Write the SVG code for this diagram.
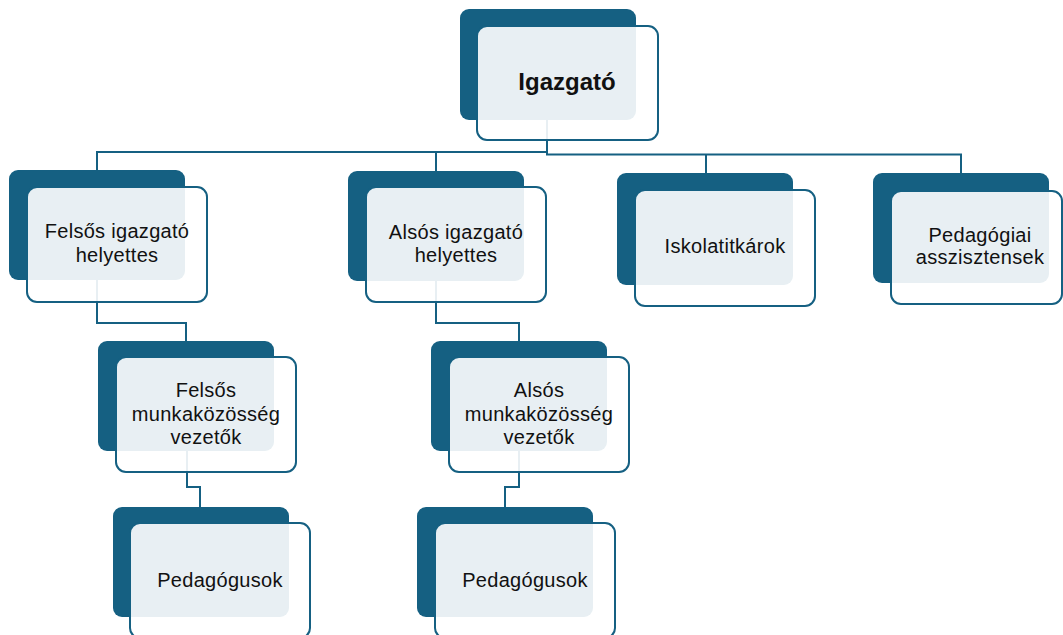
<svg xmlns="http://www.w3.org/2000/svg" width="1063" height="635" viewBox="0 0 1063 635">
<style>
.bg{fill:#ffffff}
.dark{fill:#156082}
.box{fill:#ffffff;fill-opacity:0.9;stroke:#156082;stroke-width:2}
.conn{fill:none;stroke:#156082;stroke-width:2}
.t{font-family:"Liberation Sans",Arial,sans-serif;font-size:20px;fill:#111111;text-anchor:middle;letter-spacing:0.3px}
.tb{font-family:"Liberation Sans",Arial,sans-serif;font-size:24px;font-weight:bold;fill:#111111;text-anchor:middle}
</style>
<rect class="bg" x="0" y="0" width="1063" height="635"/>
<g id="connectors">
<path class="conn" d="M547 120 V154.5 H961 V173"/>
<path class="conn" d="M547 152 H97 V170"/>
<path class="conn" d="M436 152 V171"/>
<path class="conn" d="M706 154.5 V173"/>
<path class="conn" d="M97 280 V323 H186 V341"/>
<path class="conn" d="M187 451 V487 H200 V507"/>
<path class="conn" d="M436 281 V323 H519 V341"/>
<path class="conn" d="M519 451 V487 H505 V507"/>
</g>
<g id="node-igazgato">
<rect class="dark" x="460" y="9" width="176" height="111" rx="9"/>
<rect class="box" x="477" y="26" width="181" height="114" rx="10"/>
<text class="tb" x="567" y="90">Igazgató</text>
</g>
<g id="node-felsos-ig">
<rect class="dark" x="9" y="170" width="176" height="110" rx="9"/>
<rect class="box" x="27" y="187" width="180" height="115" rx="10"/>
<text class="t" x="117" y="238">Felsős igazgató</text>
<text class="t" x="117" y="262">helyettes</text>
</g>
<g id="node-alsos-ig">
<rect class="dark" x="348" y="171" width="176" height="110" rx="9"/>
<rect class="box" x="366" y="187" width="180" height="115" rx="10"/>
<text class="t" x="456" y="239">Alsós igazgató</text>
<text class="t" x="456" y="262">helyettes</text>
</g>
<g id="node-iskolatitkarok">
<rect class="dark" x="617" y="173" width="176" height="112" rx="9"/>
<rect class="box" x="635" y="190" width="180" height="116" rx="10"/>
<text class="t" x="725" y="253">Iskolatitkárok</text>
</g>
<g id="node-pedagogiai-asszisztensek">
<rect class="dark" x="873" y="173" width="176" height="110" rx="9"/>
<rect class="box" x="891" y="191" width="171" height="113" rx="10"/>
<text class="t" x="980" y="242">Pedagógiai</text>
<text class="t" x="980" y="264">asszisztensek</text>
</g>
<g id="node-felsos-munk">
<rect class="dark" x="98" y="341" width="176" height="110" rx="9"/>
<rect class="box" x="116" y="357" width="180" height="115" rx="10"/>
<text class="t" x="206" y="397">Felsős</text>
<text class="t" x="206" y="420.5">munkaközösség</text>
<text class="t" x="206" y="443.5">vezetők</text>
</g>
<g id="node-alsos-munk">
<rect class="dark" x="431" y="341" width="176" height="110" rx="9"/>
<rect class="box" x="449" y="357" width="180" height="115" rx="10"/>
<text class="t" x="539" y="397">Alsós</text>
<text class="t" x="539" y="420.5">munkaközösség</text>
<text class="t" x="539" y="443.5">vezetők</text>
</g>
<g id="node-pedagogusok-1">
<rect class="dark" x="113" y="507" width="176" height="110" rx="9"/>
<rect class="box" x="130" y="523" width="180" height="115" rx="10"/>
<text class="t" x="220" y="587">Pedagógusok</text>
</g>
<g id="node-pedagogusok-2">
<rect class="dark" x="417" y="507" width="176" height="110" rx="9"/>
<rect class="box" x="435" y="523" width="180" height="115" rx="10"/>
<text class="t" x="525" y="587">Pedagógusok</text>
</g>
</svg>
